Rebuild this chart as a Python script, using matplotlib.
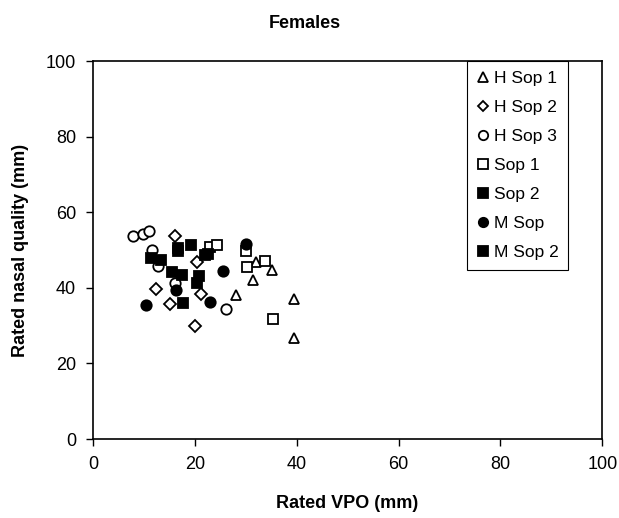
import numpy as np
import matplotlib
matplotlib.use("Agg")
import matplotlib.pyplot as plt

plt.rcParams['font.family'] = ['Liberation Sans', 'DejaVu Sans']

# values (x = rated VPO, y = rated nasal quality)
h_sop1_x = [28.1, 31.4, 32.1, 35.2, 39.5, 39.5]
h_sop1_y = [38.0, 42.1, 46.8, 44.8, 37.1, 26.6]

h_sop2_x = [16.1, 20.5, 12.4, 15.2, 21.2, 20.1]
h_sop2_y = [53.6, 46.9, 39.6, 35.7, 38.4, 30.0]

h_sop3_x = [7.8, 9.8, 11.1, 11.7, 12.8, 16.1, 26.1]
h_sop3_y = [53.8, 54.2, 55.0, 50.0, 45.8, 41.3, 34.5]

sop1_x = [23.0, 24.3, 30.0, 30.3, 33.7, 35.4]
sop1_y = [50.9, 51.3, 49.7, 45.5, 47.2, 31.8]

sop2_x = [11.5, 16.7, 19.3, 15.5, 20.5, 22.0]
sop2_y = [47.9, 49.8, 51.3, 44.1, 41.3, 48.7]

m_sop_x = [10.4, 16.3, 22.9, 25.6, 30.0]
m_sop_y = [35.4, 39.4, 36.3, 44.5, 51.6]

m_sop2_x = [13.4, 17.5, 20.9, 17.7, 16.7, 22.6]
m_sop2_y = [47.4, 43.5, 43.1, 35.9, 50.5, 49.0]

fig = plt.figure(figsize=(6.19, 5.18), dpi=100)
ax = fig.add_axes([0.150, 0.1525, 0.823, 0.7295])

kw = dict(linestyle='none', color='black', markersize=7.5, markeredgewidth=1.3)
ax.plot(h_sop1_x, h_sop1_y, marker='^', markerfacecolor='white', label='H Sop 1', **kw)
ax.plot(h_sop2_x, h_sop2_y, marker='D', markerfacecolor='white', label='H Sop 2',
        **{**kw, 'markersize': 6})
ax.plot(h_sop3_x, h_sop3_y, marker='o', markerfacecolor='white', label='H Sop 3', **kw)
ax.plot(sop1_x, sop1_y, marker='s', markerfacecolor='white', label='Sop 1', **kw)
ax.plot(sop2_x, sop2_y, marker='s', markerfacecolor='black', label='Sop 2', **kw)
ax.plot(m_sop_x, m_sop_y, marker='o', markerfacecolor='black', label='M Sop', **kw)
ax.plot(m_sop2_x, m_sop2_y, marker='s', markerfacecolor='black', label='M Sop 2', **kw)

ax.set_xlim(0, 100)
ax.set_ylim(0, 100)
ax.set_xticks(np.arange(0, 101, 20))
ax.set_yticks(np.arange(0, 101, 20))
ax.tick_params(labelsize=13, direction='out', length=5, width=1, pad=7)
for s in ax.spines.values():
    s.set_linewidth(1.2)

ax.set_xlabel('Rated VPO (mm)', fontsize=13, fontweight='bold', labelpad=16)
ax.set_ylabel('Rated nasal quality (mm)', fontsize=13, fontweight='bold', labelpad=12)
fig.text(0.493, 0.955, 'Females', fontsize=13, fontweight='bold', ha='center', va='center')

leg = ax.legend(loc='upper left', bbox_to_anchor=(0.735, 1.0), fontsize=12.5,
                frameon=True, fancybox=False, framealpha=1, edgecolor='black',
                handlelength=0.7, handletextpad=0.3, labelspacing=0.8,
                borderpad=0.55, markerscale=0.9, borderaxespad=0)
leg.get_frame().set_linewidth(0.8)

fig.savefig('out.png', dpi=100)
